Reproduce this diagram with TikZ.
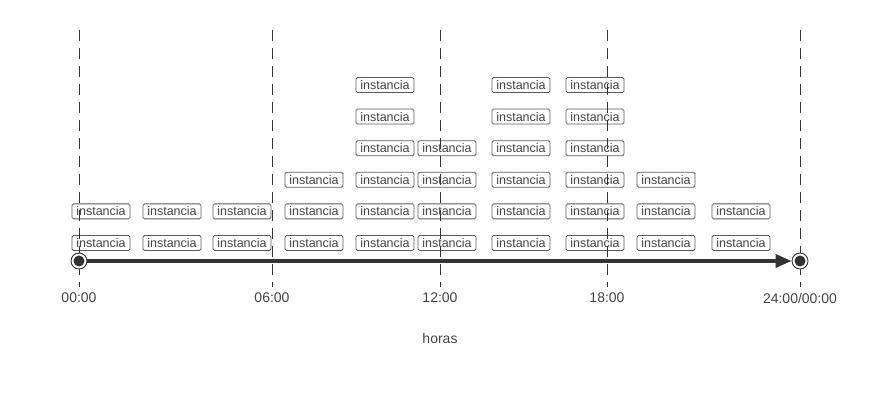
\documentclass[tikz,border=0pt]{standalone}
\usepackage{fontspec}
\setmainfont{Liberation Sans}
\usetikzlibrary{arrows.meta}
\definecolor{linegray}{HTML}{333333}
\definecolor{boxgray}{HTML}{5A5A5A}
\definecolor{txtgray}{HTML}{444444}
\begin{document}
\begin{tikzpicture}[x=1pt,y=-1pt,
  inst/.style={draw=boxgray, line width=0.8pt, rounded corners=1.5pt, minimum width=58pt, minimum height=15pt, inner sep=0pt, text=txtgray, font=\fontsize{12.5}{12.5}\selectfont},
  guide/.style={draw=linegray, line width=0.8pt, dash pattern=on 11pt off 7pt},
  endpt/.style={circle, draw=linegray, fill=white, line width=0.9pt, minimum size=16pt, inner sep=0pt},
  tlabel/.style={text=txtgray, font=\fontsize{14}{14}\selectfont},
  timeline/.style={draw=linegray, line width=3.5pt, -{Triangle[length=16pt,width=13pt]}}
]
\useasboundingbox (0,0) rectangle (880,395);
% guides
\foreach \i/\x in {0/79,1/272,2/440,3/607,4/800}{
  \coordinate (gt\i) at (\x,30);
  \coordinate (gb\i) at (\x,287);
  \draw[guide] (gt\i) -- (gb\i);
}
% instances
\foreach \c/\x/\rows in {1/101/2,2/172/2,3/242/2,4/314/3,5/385/6,6/447/4,7/521/6,8/595/6,9/666/3,10/741/2}{
  \foreach \r in {1,...,\rows}{
    \pgfmathsetmacro{\yy}{243-(\r-1)*31.6}
    \node[inst] (i\c-\r) at (\x,\yy) {instancia};
  }
}
% redraw guides over boxes
\foreach \i in {0,...,4}{\draw[guide] (gt\i) -- (gb\i);}
% timeline
\node[endpt] (s) at (79,261) {};
\node[endpt] (e) at (800,261) {};
\fill[linegray] (s.center) circle (5.5pt);
\fill[linegray] (e.center) circle (5.5pt);
\draw[timeline] (s) -- (e);
% labels
\node[tlabel] (l0) at (79,298) {00:00};
\node[tlabel] (l1) at (272,298) {06:00};
\node[tlabel] (l2) at (440,298) {12:00};
\node[tlabel] (l3) at (607,298) {18:00};
\node[tlabel] (l4) at (800,298) {24:00/00:00};
\node[tlabel] (h) at (440,338) {horas};
\end{tikzpicture}
\end{document}
